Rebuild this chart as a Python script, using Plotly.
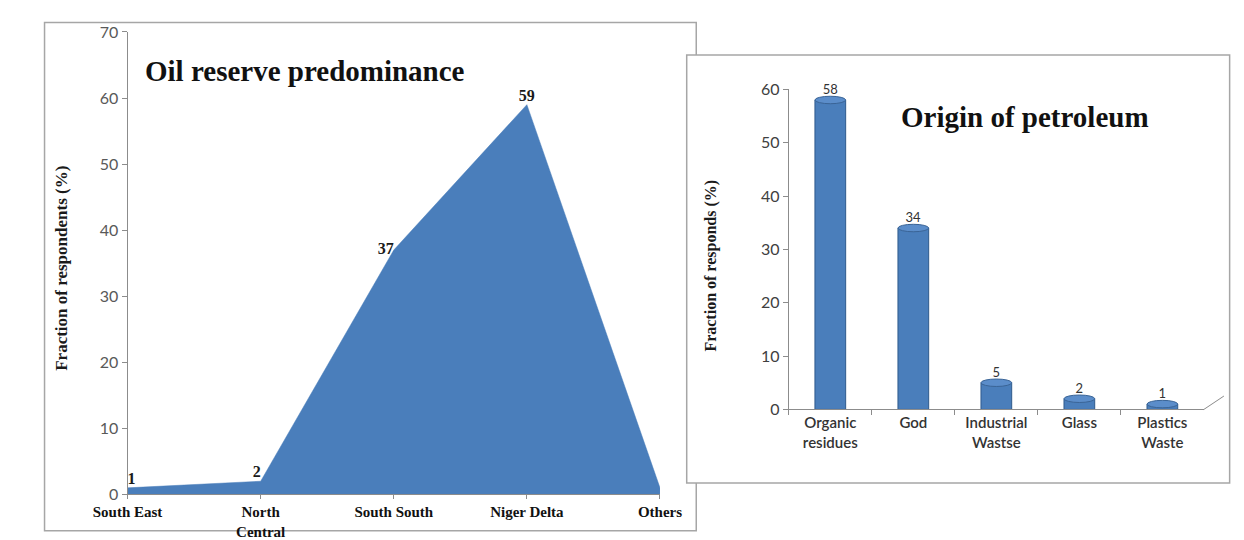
import plotly.graph_objects as go

W, H = 1244, 540

# Left panel: where oil reserves are thought to be predominant
regions = ["South East", "North Central", "South South", "Niger Delta", "Others"]
region_tick_text = ["South East", "North<br>Central", "South South", "Niger Delta", "Others"]
region_pct = [1, 2, 37, 59, 1]
region_label_pos = ["top right", "top left", "middle left", "top center", "top right"]

# Right panel: perceived origin of petroleum
origins = ["Organic<br>residues", "God", "Industrial<br>Wastse", "Glass", "Plastics<br>Waste"]
origin_pct = [58, 34, 5, 2, 1]

BLUE = "#4a7ebb"
GRID_GREY = "#8c8c8c"
SERIF = "Liberation Serif"
SANS = "Lato"


def px_x(v):
    return v / W


def px_y(v):
    return (H - v) / H


fig = go.Figure()

# area for the left panel
x_idx = list(range(len(regions)))
fig.add_trace(go.Scatter(
    x=x_idx, y=region_pct, mode="lines", fill="tozeroy",
    fillcolor=BLUE, line=dict(color=BLUE, width=0.5),
    xaxis="x", yaxis="y", hoverinfo="skip", showlegend=False,
))
fig.add_trace(go.Scatter(
    x=x_idx, y=region_pct, mode="text",
    text=[str(v) for v in region_pct], textposition=region_label_pos,
    textfont=dict(family=SERIF, size=16, color="#1a1a1a", weight="bold"),
    xaxis="x", yaxis="y", hoverinfo="skip", showlegend=False,
))

# bars for the right panel
bar_w = 0.37
fig.add_trace(go.Bar(
    x=origins, y=origin_pct, width=bar_w,
    marker=dict(color=BLUE, line=dict(color="#2f5a8c", width=1)),
    text=[str(v) for v in origin_pct], textposition="outside",
    textfont=dict(family=SANS, size=13, color="#333333"),
    cliponaxis=False,
    xaxis="x2", yaxis="y2", hoverinfo="skip", showlegend=False,
))

shapes = [
    # outer frame of the left panel
    dict(type="rect", xref="paper", yref="paper",
         x0=px_x(10), x1=px_x(693), y0=px_y(545), y1=px_y(13),
         line=dict(color="#a6a6a6", width=1.5), fillcolor="white", layer="below"),
    # frame of the right panel, laid over the left one
    dict(type="rect", xref="paper", yref="paper",
         x0=px_x(683), x1=px_x(1252), y0=px_y(495), y1=px_y(47),
         line=dict(color="#a6a6a6", width=1.5), fillcolor="white", layer="below"),
    # receding floor edge of the 3-D bar chart
    dict(type="line", xref="paper", yref="paper",
         x0=px_x(1225), x1=px_x(1246), y0=px_y(418), y1=px_y(404),
         line=dict(color=GRID_GREY, width=1)),
]

# elliptical caps on the cylinders
for i, v in enumerate(origin_pct):
    shapes.append(dict(
        type="circle", xref="x2", yref="y2",
        x0=i - bar_w / 2, x1=i + bar_w / 2, y0=v - 0.7, y1=v + 0.7,
        line=dict(color="#3a6496", width=1), fillcolor="#5b8dca",
    ))

annotations = [
    dict(text="<b>Oil reserve predominance</b>", xref="paper", yref="paper",
         x=px_x(113), y=px_y(64), xanchor="left", yanchor="middle", showarrow=False,
         font=dict(family=SERIF, size=29, color="#111111")),
    dict(text="<b>Origin of petroleum</b>", xref="paper", yref="paper",
         x=px_x(905), y=px_y(112), xanchor="left", yanchor="middle", showarrow=False,
         font=dict(family=SERIF, size=29, color="#111111")),
    dict(text="<b>Fraction of respondents (%)</b>", xref="paper", yref="paper",
         x=px_x(27), y=px_y(270), xanchor="center", yanchor="middle", showarrow=False,
         textangle=-90, font=dict(family=SERIF, size=17, color="#1a1a1a")),
    dict(text="<b>Fraction of responds (%)</b>", xref="paper", yref="paper",
         x=px_x(709), y=px_y(268), xanchor="center", yanchor="middle", showarrow=False,
         textangle=-90, font=dict(family=SERIF, size=16, color="#1a1a1a")),
]

fig.update_layout(
    width=W, height=H,
    margin=dict(l=0, r=0, t=0, b=0),
    paper_bgcolor="white", plot_bgcolor="rgba(0,0,0,0)",
    shapes=shapes, annotations=annotations,
    xaxis=dict(
        domain=[px_x(97), px_x(655)], range=[0, len(regions) - 1],
        tickmode="array", tickvals=x_idx, ticktext=region_tick_text,
        showgrid=False, zeroline=False, showline=True, linecolor=GRID_GREY,
        ticks="outside", ticklen=4, tickcolor=GRID_GREY,
        tickfont=dict(family=SERIF, size=15, color="#111111", weight="bold"),
        anchor="y", fixedrange=True,
    ),
    yaxis=dict(
        domain=[px_y(507), px_y(23)], range=[0, 70], dtick=10,
        showgrid=False, zeroline=False, showline=True, linecolor=GRID_GREY,
        ticks="outside", ticklen=5, tickcolor=GRID_GREY,
        tickfont=dict(family=SANS, size=16, color="#595959"),
        anchor="x", fixedrange=True,
    ),
    xaxis2=dict(
        domain=[px_x(790), px_x(1225)], type="category",
        showgrid=False, zeroline=False, showline=True, linecolor=GRID_GREY,
        ticks="outside", ticklen=5, tickcolor=GRID_GREY, tickson="boundaries",
        tickfont=dict(family=SANS, size=15, color="#333333", weight=600),
        anchor="y2", fixedrange=True,
    ),
    yaxis2=dict(
        domain=[px_y(418), px_y(83)], range=[0, 60], dtick=10,
        showgrid=False, zeroline=False, showline=True, linecolor=GRID_GREY,
        ticks="outside", ticklen=5, tickcolor=GRID_GREY,
        tickfont=dict(family=SANS, size=16, color="#404040"),
        anchor="x2", fixedrange=True,
    ),
)

fig.write_html("out.html", config={"displayModeBar": False})
